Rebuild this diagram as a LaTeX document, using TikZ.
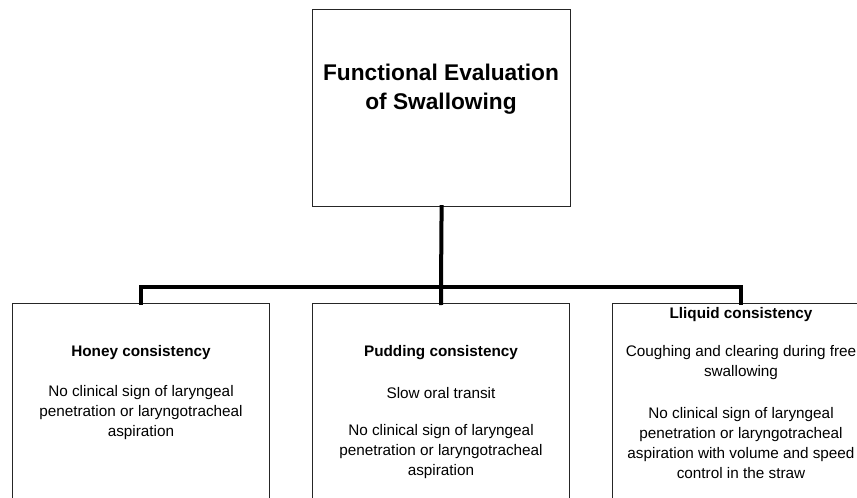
\documentclass[tikz,border=0pt]{standalone}
\usepackage{fontspec}
\setmainfont{Liberation Sans}
\begin{document}
\begin{tikzpicture}[x=1pt,y=-1pt,
  box/.style={draw=black!85, line width=1.2pt, inner sep=0pt, anchor=north west},
  bus/.style={draw=black, line width=4pt, line join=miter, line cap=rect},
  head/.style={font=\fontsize{15.3}{20}\selectfont\bfseries, align=center, inner sep=0pt},
  body/.style={font=\fontsize{15.3}{20}\selectfont, align=center, inner sep=0pt},
  title/.style={font=\fontsize{22.7}{29}\selectfont\bfseries, align=center, inner sep=0pt}]
\useasboundingbox (0,0) rectangle (857,498);
\clip (0,0) rectangle (857,498);
% boxes
\node[box, minimum width=258pt, minimum height=197pt] (main) at (312,9) {};
\node[box, minimum width=257pt, minimum height=230pt] (honey) at (12,303) {};
\node[box, minimum width=257pt, minimum height=230pt] (pudding) at (312,303) {};
\node[box, minimum width=257pt, minimum height=230pt] (liquid) at (612,303) {};
% connectors
\coordinate (j) at (441,287);
\draw[bus] (main.south) -- (j);
\draw[bus] (j) -| (honey.north);
\draw[bus] (j) -- (pudding.north);
\draw[bus] (j) -| (liquid.north);
% texts
\node[title] (t0) at (441,89) {Functional Evaluation\\of Swallowing};
\node[head] (h1) at (141,353) {Honey consistency};
\node[body] (b1) at (141,413) {No clinical sign of laryngeal\\penetration or laryngotracheal\\aspiration};
\node[head] (h2) at (441,353) {Pudding consistency};
\node[body] (b2a) at (441,393) {Slow oral transit};
\node[body] (b2b) at (441,452) {No clinical sign of laryngeal\\penetration or laryngotracheal\\aspiration};
\node[head] (h3) at (741,315) {Lliquid consistency};
\node[body] (b3a) at (741,363) {Coughing and clearing during free\\swallowing};
\node[body] (b3b) at (741,443) {No clinical sign of laryngeal\\penetration or laryngotracheal\\aspiration with volume and speed\\control in the straw};
\end{tikzpicture}
\end{document}
